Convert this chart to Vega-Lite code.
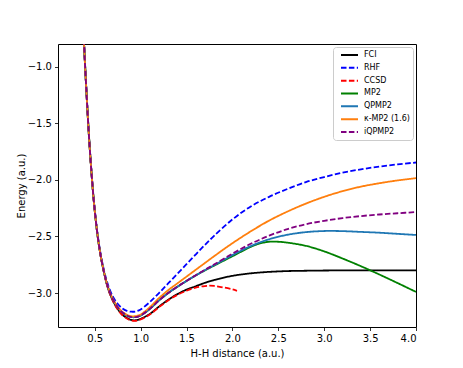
{
  "$schema": "https://vega.github.io/schema/vega-lite/v6.json",
  "width": 358,
  "height": 283,
  "autosize": {"type": "none"},
  "padding": {"left": 58, "top": 44, "right": 47, "bottom": 41},
  "background": "white",
  "config": {
    "view": {"stroke": "black", "strokeWidth": 1},
    "axis": {"labelFont": "DejaVu Sans", "titleFont": "DejaVu Sans", "labelFontSize": 10, "titleFontSize": 10, "titleFontWeight": "normal", "labelColor": "black", "titleColor": "black", "tickColor": "black", "tickSize": 3.5, "tickWidth": 0.8, "grid": false, "domain": false, "labelPadding": 3},
    "legend": {"orient": "top-right", "offset": 3, "padding": 3, "strokeColor": "#cccccc", "fillColor": "white", "cornerRadius": 3, "labelFont": "DejaVu Sans", "labelFontSize": 8, "labelColor": "black", "symbolType": "M-0.2,0H3.2", "symbolSize": 100, "symbolStrokeWidth": 2, "clipHeight": 10, "rowPadding": 2.83, "labelOffset": 16}
  },
  "data": {"values": [
    {"m":"FCI","r":0.35,"E":-0.2},{"m":"FCI","r":0.4,"E":-1.07},{"m":"FCI","r":0.45,"E":-1.77},{"m":"FCI","r":0.5,"E":-2.27},{"m":"FCI","r":0.55,"E":-2.6},{"m":"FCI","r":0.6,"E":-2.815},{"m":"FCI","r":0.65,"E":-2.97},{"m":"FCI","r":0.7,"E":-3.07},{"m":"FCI","r":0.75,"E":-3.14},{"m":"FCI","r":0.8,"E":-3.19},{"m":"FCI","r":0.85,"E":-3.22},{"m":"FCI","r":0.9,"E":-3.238},{"m":"FCI","r":0.95,"E":-3.24},{"m":"FCI","r":1.0,"E":-3.228},{"m":"FCI","r":1.1,"E":-3.185},{"m":"FCI","r":1.2,"E":-3.12},{"m":"FCI","r":1.3,"E":-3.06},{"m":"FCI","r":1.4,"E":-3.01},{"m":"FCI","r":1.5,"E":-2.97},{"m":"FCI","r":1.6,"E":-2.94},{"m":"FCI","r":1.7,"E":-2.91},{"m":"FCI","r":1.8,"E":-2.885},{"m":"FCI","r":2.0,"E":-2.848},{"m":"FCI","r":2.2,"E":-2.826},{"m":"FCI","r":2.4,"E":-2.813},{"m":"FCI","r":2.6,"E":-2.806},{"m":"FCI","r":2.8,"E":-2.803},{"m":"FCI","r":3.0,"E":-2.801},{"m":"FCI","r":3.2,"E":-2.8},{"m":"FCI","r":3.4,"E":-2.8},{"m":"FCI","r":3.6,"E":-2.8},{"m":"FCI","r":3.8,"E":-2.8},{"m":"FCI","r":4.0,"E":-2.8},
    {"m":"RHF","r":0.35,"E":-0.19},{"m":"RHF","r":0.4,"E":-1.06},{"m":"RHF","r":0.45,"E":-1.76},{"m":"RHF","r":0.5,"E":-2.26},{"m":"RHF","r":0.55,"E":-2.585},{"m":"RHF","r":0.6,"E":-2.795},{"m":"RHF","r":0.65,"E":-2.94},{"m":"RHF","r":0.7,"E":-3.035},{"m":"RHF","r":0.75,"E":-3.095},{"m":"RHF","r":0.8,"E":-3.135},{"m":"RHF","r":0.85,"E":-3.157},{"m":"RHF","r":0.9,"E":-3.165},{"m":"RHF","r":0.95,"E":-3.162},{"m":"RHF","r":1.0,"E":-3.145},{"m":"RHF","r":1.1,"E":-3.08},{"m":"RHF","r":1.2,"E":-3.0},{"m":"RHF","r":1.3,"E":-2.915},{"m":"RHF","r":1.4,"E":-2.83},{"m":"RHF","r":1.5,"E":-2.745},{"m":"RHF","r":1.6,"E":-2.66},{"m":"RHF","r":1.7,"E":-2.575},{"m":"RHF","r":1.8,"E":-2.495},{"m":"RHF","r":2.0,"E":-2.35},{"m":"RHF","r":2.2,"E":-2.235},{"m":"RHF","r":2.4,"E":-2.15},{"m":"RHF","r":2.6,"E":-2.08},{"m":"RHF","r":2.8,"E":-2.02},{"m":"RHF","r":3.0,"E":-1.975},{"m":"RHF","r":3.2,"E":-1.937},{"m":"RHF","r":3.4,"E":-1.907},{"m":"RHF","r":3.6,"E":-1.883},{"m":"RHF","r":3.8,"E":-1.863},{"m":"RHF","r":4.0,"E":-1.847},
    {"m":"CCSD","r":0.35,"E":-0.2},{"m":"CCSD","r":0.4,"E":-1.07},{"m":"CCSD","r":0.45,"E":-1.77},{"m":"CCSD","r":0.5,"E":-2.27},{"m":"CCSD","r":0.55,"E":-2.6},{"m":"CCSD","r":0.6,"E":-2.817},{"m":"CCSD","r":0.65,"E":-2.973},{"m":"CCSD","r":0.7,"E":-3.073},{"m":"CCSD","r":0.75,"E":-3.144},{"m":"CCSD","r":0.8,"E":-3.194},{"m":"CCSD","r":0.85,"E":-3.225},{"m":"CCSD","r":0.9,"E":-3.243},{"m":"CCSD","r":0.95,"E":-3.245},{"m":"CCSD","r":1.0,"E":-3.233},{"m":"CCSD","r":1.1,"E":-3.19},{"m":"CCSD","r":1.2,"E":-3.125},{"m":"CCSD","r":1.3,"E":-3.065},{"m":"CCSD","r":1.4,"E":-3.017},{"m":"CCSD","r":1.5,"E":-2.98},{"m":"CCSD","r":1.6,"E":-2.952},{"m":"CCSD","r":1.7,"E":-2.938},{"m":"CCSD","r":1.75,"E":-2.935},{"m":"CCSD","r":1.8,"E":-2.937},{"m":"CCSD","r":1.9,"E":-2.95},{"m":"CCSD","r":2.0,"E":-2.968},{"m":"CCSD","r":2.05,"E":-2.98},
    {"m":"MP2","r":0.35,"E":-0.2},{"m":"MP2","r":0.4,"E":-1.07},{"m":"MP2","r":0.45,"E":-1.77},{"m":"MP2","r":0.5,"E":-2.27},{"m":"MP2","r":0.55,"E":-2.598},{"m":"MP2","r":0.6,"E":-2.81},{"m":"MP2","r":0.65,"E":-2.962},{"m":"MP2","r":0.7,"E":-3.058},{"m":"MP2","r":0.75,"E":-3.125},{"m":"MP2","r":0.8,"E":-3.17},{"m":"MP2","r":0.85,"E":-3.198},{"m":"MP2","r":0.9,"E":-3.212},{"m":"MP2","r":0.95,"E":-3.212},{"m":"MP2","r":1.0,"E":-3.198},{"m":"MP2","r":1.1,"E":-3.14},{"m":"MP2","r":1.2,"E":-3.065},{"m":"MP2","r":1.3,"E":-3.0},{"m":"MP2","r":1.4,"E":-2.945},{"m":"MP2","r":1.5,"E":-2.893},{"m":"MP2","r":1.6,"E":-2.845},{"m":"MP2","r":1.7,"E":-2.8},{"m":"MP2","r":1.8,"E":-2.758},{"m":"MP2","r":2.0,"E":-2.675},{"m":"MP2","r":2.2,"E":-2.592},{"m":"MP2","r":2.3,"E":-2.562},{"m":"MP2","r":2.4,"E":-2.547},{"m":"MP2","r":2.5,"E":-2.547},{"m":"MP2","r":2.6,"E":-2.555},{"m":"MP2","r":2.8,"E":-2.583},{"m":"MP2","r":3.0,"E":-2.632},{"m":"MP2","r":3.2,"E":-2.695},{"m":"MP2","r":3.4,"E":-2.763},{"m":"MP2","r":3.6,"E":-2.836},{"m":"MP2","r":3.8,"E":-2.912},{"m":"MP2","r":4.0,"E":-2.99},
    {"m":"QPMP2","r":0.35,"E":-0.2},{"m":"QPMP2","r":0.4,"E":-1.07},{"m":"QPMP2","r":0.45,"E":-1.77},{"m":"QPMP2","r":0.5,"E":-2.27},{"m":"QPMP2","r":0.55,"E":-2.598},{"m":"QPMP2","r":0.6,"E":-2.81},{"m":"QPMP2","r":0.65,"E":-2.962},{"m":"QPMP2","r":0.7,"E":-3.058},{"m":"QPMP2","r":0.75,"E":-3.125},{"m":"QPMP2","r":0.8,"E":-3.17},{"m":"QPMP2","r":0.85,"E":-3.198},{"m":"QPMP2","r":0.9,"E":-3.212},{"m":"QPMP2","r":0.95,"E":-3.212},{"m":"QPMP2","r":1.0,"E":-3.198},{"m":"QPMP2","r":1.1,"E":-3.14},{"m":"QPMP2","r":1.2,"E":-3.065},{"m":"QPMP2","r":1.3,"E":-3.0},{"m":"QPMP2","r":1.4,"E":-2.945},{"m":"QPMP2","r":1.5,"E":-2.893},{"m":"QPMP2","r":1.6,"E":-2.845},{"m":"QPMP2","r":1.7,"E":-2.798},{"m":"QPMP2","r":1.8,"E":-2.754},{"m":"QPMP2","r":2.0,"E":-2.665},{"m":"QPMP2","r":2.2,"E":-2.585},{"m":"QPMP2","r":2.4,"E":-2.525},{"m":"QPMP2","r":2.6,"E":-2.485},{"m":"QPMP2","r":2.8,"E":-2.462},{"m":"QPMP2","r":3.0,"E":-2.452},{"m":"QPMP2","r":3.2,"E":-2.453},{"m":"QPMP2","r":3.4,"E":-2.46},{"m":"QPMP2","r":3.6,"E":-2.467},{"m":"QPMP2","r":3.8,"E":-2.477},{"m":"QPMP2","r":4.0,"E":-2.487},
    {"m":"κ-MP2 (1.6)","r":0.35,"E":-0.2},{"m":"κ-MP2 (1.6)","r":0.4,"E":-1.07},{"m":"κ-MP2 (1.6)","r":0.45,"E":-1.77},{"m":"κ-MP2 (1.6)","r":0.5,"E":-2.27},{"m":"κ-MP2 (1.6)","r":0.55,"E":-2.598},{"m":"κ-MP2 (1.6)","r":0.6,"E":-2.808},{"m":"κ-MP2 (1.6)","r":0.65,"E":-2.96},{"m":"κ-MP2 (1.6)","r":0.7,"E":-3.055},{"m":"κ-MP2 (1.6)","r":0.75,"E":-3.12},{"m":"κ-MP2 (1.6)","r":0.8,"E":-3.165},{"m":"κ-MP2 (1.6)","r":0.85,"E":-3.192},{"m":"κ-MP2 (1.6)","r":0.9,"E":-3.205},{"m":"κ-MP2 (1.6)","r":0.95,"E":-3.203},{"m":"κ-MP2 (1.6)","r":1.0,"E":-3.19},{"m":"κ-MP2 (1.6)","r":1.1,"E":-3.125},{"m":"κ-MP2 (1.6)","r":1.2,"E":-3.045},{"m":"κ-MP2 (1.6)","r":1.3,"E":-2.975},{"m":"κ-MP2 (1.6)","r":1.4,"E":-2.915},{"m":"κ-MP2 (1.6)","r":1.5,"E":-2.855},{"m":"κ-MP2 (1.6)","r":1.6,"E":-2.795},{"m":"κ-MP2 (1.6)","r":1.7,"E":-2.735},{"m":"κ-MP2 (1.6)","r":1.8,"E":-2.675},{"m":"κ-MP2 (1.6)","r":2.0,"E":-2.56},{"m":"κ-MP2 (1.6)","r":2.2,"E":-2.455},{"m":"κ-MP2 (1.6)","r":2.4,"E":-2.36},{"m":"κ-MP2 (1.6)","r":2.6,"E":-2.28},{"m":"κ-MP2 (1.6)","r":2.8,"E":-2.21},{"m":"κ-MP2 (1.6)","r":3.0,"E":-2.15},{"m":"κ-MP2 (1.6)","r":3.2,"E":-2.1},{"m":"κ-MP2 (1.6)","r":3.4,"E":-2.06},{"m":"κ-MP2 (1.6)","r":3.6,"E":-2.03},{"m":"κ-MP2 (1.6)","r":3.8,"E":-2.005},{"m":"κ-MP2 (1.6)","r":4.0,"E":-1.985},
    {"m":"iQPMP2","r":0.35,"E":-0.2},{"m":"iQPMP2","r":0.4,"E":-1.07},{"m":"iQPMP2","r":0.45,"E":-1.77},{"m":"iQPMP2","r":0.5,"E":-2.27},{"m":"iQPMP2","r":0.55,"E":-2.598},{"m":"iQPMP2","r":0.6,"E":-2.81},{"m":"iQPMP2","r":0.65,"E":-2.962},{"m":"iQPMP2","r":0.7,"E":-3.058},{"m":"iQPMP2","r":0.75,"E":-3.125},{"m":"iQPMP2","r":0.8,"E":-3.17},{"m":"iQPMP2","r":0.85,"E":-3.198},{"m":"iQPMP2","r":0.9,"E":-3.212},{"m":"iQPMP2","r":0.95,"E":-3.212},{"m":"iQPMP2","r":1.0,"E":-3.198},{"m":"iQPMP2","r":1.1,"E":-3.14},{"m":"iQPMP2","r":1.2,"E":-3.065},{"m":"iQPMP2","r":1.3,"E":-3.0},{"m":"iQPMP2","r":1.4,"E":-2.945},{"m":"iQPMP2","r":1.5,"E":-2.893},{"m":"iQPMP2","r":1.6,"E":-2.843},{"m":"iQPMP2","r":1.7,"E":-2.795},{"m":"iQPMP2","r":1.8,"E":-2.748},{"m":"iQPMP2","r":2.0,"E":-2.652},{"m":"iQPMP2","r":2.2,"E":-2.565},{"m":"iQPMP2","r":2.4,"E":-2.493},{"m":"iQPMP2","r":2.6,"E":-2.435},{"m":"iQPMP2","r":2.8,"E":-2.392},{"m":"iQPMP2","r":3.0,"E":-2.362},{"m":"iQPMP2","r":3.2,"E":-2.338},{"m":"iQPMP2","r":3.4,"E":-2.32},{"m":"iQPMP2","r":3.6,"E":-2.306},{"m":"iQPMP2","r":3.8,"E":-2.295},{"m":"iQPMP2","r":4.0,"E":-2.285}
  ]},
  "mark": {"type": "line", "strokeWidth": 1.8, "clip": true, "interpolate": "catmull-rom"},
  "encoding": {
    "x": {"field": "r", "type": "quantitative", "scale": {"domain": [0.1, 4.0], "nice": false, "zero": false}, "axis": {"values": [0.5, 1.0, 1.5, 2.0, 2.5, 3.0, 3.5, 4.0], "format": ".1f", "title": "H-H distance (a.u.)", "titlePadding": 5}},
    "y": {"field": "E", "type": "quantitative", "scale": {"domain": [-3.3, -0.8], "nice": false, "zero": false}, "axis": {"values": [-3.0, -2.5, -2.0, -1.5, -1.0], "format": ".1f", "title": "Energy (a.u.)", "titlePadding": 1}},
    "color": {"field": "m", "type": "nominal", "scale": {"domain": ["FCI", "RHF", "CCSD", "MP2", "QPMP2", "κ-MP2 (1.6)", "iQPMP2"], "range": ["#000000", "#0000ff", "#ff0000", "#008000", "#1f77b4", "#ff7f0e", "#800080"]}, "legend": {"title": null}},
    "strokeDash": {"field": "m", "type": "nominal", "scale": {"domain": ["FCI", "RHF", "CCSD", "MP2", "QPMP2", "κ-MP2 (1.6)", "iQPMP2"], "range": [[1, 0], [5.5, 2.4], [5.5, 2.4], [1, 0], [1, 0], [1, 0], [5.5, 2.4]]}, "legend": {"title": null}}
  }
}
